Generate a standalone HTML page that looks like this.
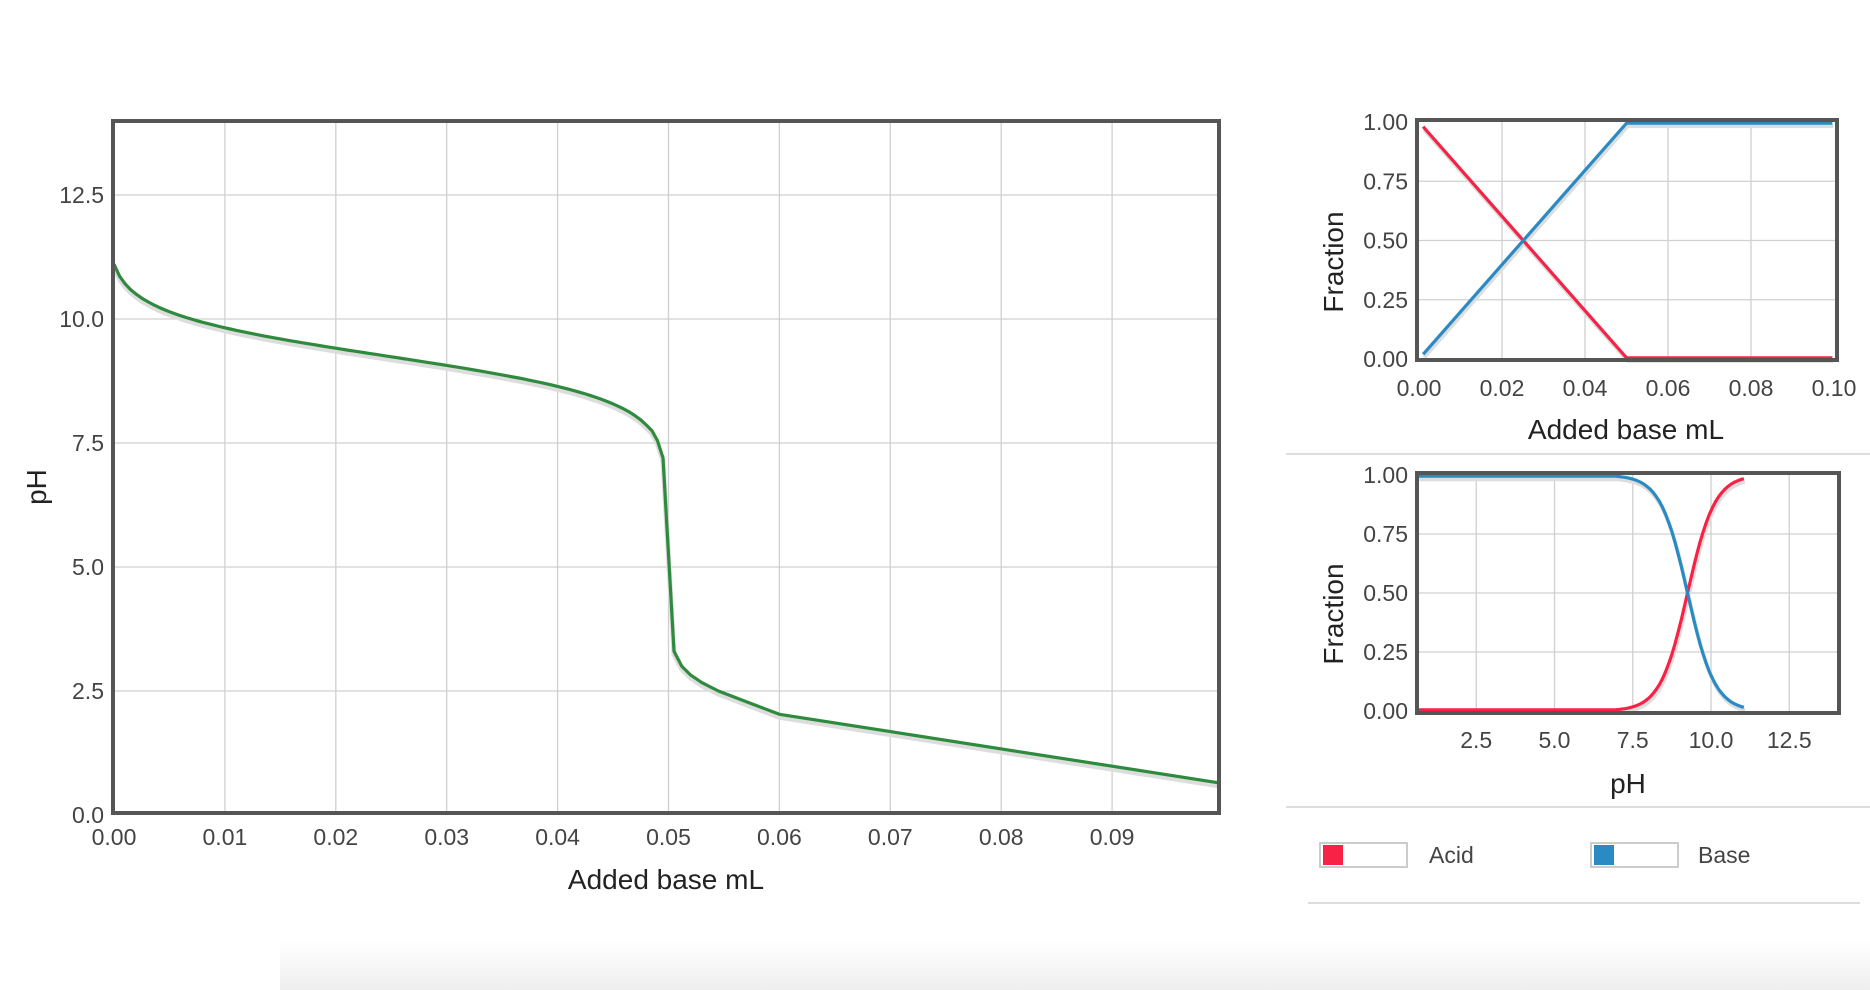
<!DOCTYPE html>
<html><head><meta charset="utf-8"><style>
html,body{margin:0;padding:0;background:#fff;width:1870px;height:990px;overflow:hidden}
svg{display:block}
text{font-family:"Liberation Sans",sans-serif;fill:#444}
</style></head><body>
<svg id="s" width="1870" height="990" xmlns="http://www.w3.org/2000/svg">
<defs><linearGradient id="g" x1="0" y1="0" x2="0" y2="1"><stop offset="0" stop-color="#fff"/><stop offset="1" stop-color="#eee"/></linearGradient></defs>
<rect x="280" y="940" width="1590" height="50" fill="url(#g)"/>
<g id="grid" stroke="#d0d0d0" stroke-width="1.3"></g>
<g id="lines" fill="none" stroke-linejoin="round"></g>
<g id="frames" fill="none" stroke="#555" stroke-width="4">
<rect x="113" y="121" width="1106" height="692"/>
<rect x="1417" y="120" width="420" height="240"/>
<rect x="1417" y="473" width="422" height="240"/>
</g>
<g id="labels" font-size="23"></g>
<text x="666" y="889" font-size="28" text-anchor="middle" style="fill:#222">Added base mL</text>
<text transform="translate(46,487) rotate(-90)" font-size="28" text-anchor="middle" style="fill:#222">pH</text>
<text x="1626" y="439" font-size="28" text-anchor="middle" style="fill:#222">Added base mL</text>
<text transform="translate(1343,262) rotate(-90)" font-size="28" text-anchor="middle" style="fill:#222">Fraction</text>
<text x="1628" y="793" font-size="28" text-anchor="middle" style="fill:#222">pH</text>
<text transform="translate(1343,614) rotate(-90)" font-size="28" text-anchor="middle" style="fill:#222">Fraction</text>
<line x1="1286" y1="454" x2="1870" y2="454" stroke="#ddd" stroke-width="2"/>
<line x1="1286" y1="807" x2="1870" y2="807" stroke="#ddd" stroke-width="2"/>
<line x1="1308" y1="903" x2="1860" y2="903" stroke="#ddd" stroke-width="2"/>
<rect x="1320" y="843" width="87" height="24" fill="#fff" stroke="#ccc" stroke-width="2"/>
<rect x="1323" y="845" width="20" height="20" fill="#f72245"/>
<text x="1429" y="863" font-size="23">Acid</text>
<rect x="1591" y="843" width="87" height="24" fill="#fff" stroke="#ccc" stroke-width="2"/>
<rect x="1594" y="845" width="20" height="20" fill="#2a8bc4"/>
<text x="1698" y="863" font-size="23">Base</text>
</svg>
<script>
var NS="http://www.w3.org/2000/svg";
function el(p,t,a,txt){var e=document.createElementNS(NS,t);for(var k in a)e.setAttribute(k,a[k]);if(txt!==undefined)e.textContent=txt;document.getElementById(p).appendChild(e);return e;}
var X0=114,XS=11090,Y0=815,YS=49.6;
function mx(x){return X0+x*XS}function my(y){return Y0-y*YS}
for(var i=1;i<=9;i++){var x=mx(i*0.01);el('grid','line',{x1:x,y1:121,x2:x,y2:813});}
for(var i=1;i<=5;i++){var y=my(i*2.5);el('grid','line',{x1:113,y1:y,x2:1219,y2:y});}
for(var i=0;i<=9;i++)el('labels','text',{x:mx(i*0.01),y:845,'text-anchor':'middle'},(i*0.01).toFixed(2));
for(var i=0;i<=5;i++)el('labels','text',{x:104,y:my(i*2.5)+8,'text-anchor':'end'},(i*2.5).toFixed(1));
var pts=[];
for(var x=0;x<0.0485;x+=0.0005){pts.push([x,9.25+Math.log10((0.05-x)/(x+0.0007))]);}
pts.push([0.0485,7.75],[0.049,7.55],[0.0495,7.2]);
pts=pts.concat([[0.0505,3.3],[0.0512,3.0],[0.052,2.82],[0.053,2.67],[0.0545,2.5],[0.056,2.37],[0.058,2.2],[0.06,2.03],[0.0996,0.65]]);
var d=pts.map(function(p,i){return (i?'L':'M')+mx(p[0]).toFixed(1)+','+my(p[1]).toFixed(1)}).join('');
el('lines','path',{d:d,stroke:'#ddd','stroke-width':5,transform:'translate(0,3)'});
el('lines','path',{d:d,stroke:'#2e8b3e','stroke-width':3.2});
// chart 1
var A0=1419,AS=4150,B0=359,BS=237;
function ax(x){return A0+x*AS}function ay(y){return B0-y*BS}
for(var i=1;i<=4;i++){var x=ax(i*0.02);el('grid','line',{x1:x,y1:120,x2:x,y2:360});}
for(var i=1;i<=3;i++){var y=ay(i*0.25);el('grid','line',{x1:1417,y1:y,x2:1837,y2:y});}
for(var i=0;i<=5;i++)el('labels','text',{x:ax(i*0.02),y:396,'text-anchor':'middle'},(i*0.02).toFixed(2));
for(var i=0;i<=4;i++)el('labels','text',{x:1408,y:ay(i*0.25)+8,'text-anchor':'end'},(i*0.25).toFixed(2));
var da='M'+ax(0.001)+','+ay(0.98)+'L'+ax(0.05)+','+ay(0.005)+'L'+ax(0.0996)+','+ay(0.005);
var db='M'+ax(0.001)+','+ay(0.02)+'L'+ax(0.05)+','+ay(0.995)+'L'+ax(0.0996)+','+ay(0.995);
el('lines','path',{d:da,stroke:'#ddd','stroke-width':4,transform:'translate(1,3)'});
el('lines','path',{d:db,stroke:'#ddd','stroke-width':4,transform:'translate(1,3)'});
el('lines','path',{d:da,stroke:'#f72245','stroke-width':3.2});
el('lines','path',{d:db,stroke:'#2a8bc4','stroke-width':3.2});
// chart 2
var C0=1398,CS=31.3,D0=711,DS=236;
function cx(x){return C0+x*CS}function cy(y){return D0-y*DS}
for(var i=1;i<=5;i++){var x=cx(i*2.5);el('grid','line',{x1:x,y1:473,x2:x,y2:713});}
for(var i=1;i<=3;i++){var y=cy(i*0.25);el('grid','line',{x1:1417,y1:y,x2:1839,y2:y});}
for(var i=1;i<=5;i++)el('labels','text',{x:cx(i*2.5),y:748,'text-anchor':'middle'},(i*2.5).toFixed(1));
for(var i=0;i<=4;i++)el('labels','text',{x:1408,y:cy(i*0.25)+8,'text-anchor':'end'},(i*0.25).toFixed(2));
var pa=[],pb=[];
for(var p=0.65;p<=11.11;p+=0.1){var f=1/(1+Math.pow(10,9.25-p));f=Math.max(f,0.005);var g=Math.min(1-f,0.995);pa.push(cx(p).toFixed(1)+','+cy(f).toFixed(1));pb.push(cx(p).toFixed(1)+','+cy(g).toFixed(1));}
var dA='M'+pa.join('L'),dB='M'+pb.join('L');
el('lines','path',{d:dA,stroke:'#ddd','stroke-width':4,transform:'translate(1,3)'});
el('lines','path',{d:dB,stroke:'#ddd','stroke-width':4,transform:'translate(1,3)'});
el('lines','path',{d:dA,stroke:'#f72245','stroke-width':3.2});
el('lines','path',{d:dB,stroke:'#2a8bc4','stroke-width':3.2});
</script>
</body></html>
